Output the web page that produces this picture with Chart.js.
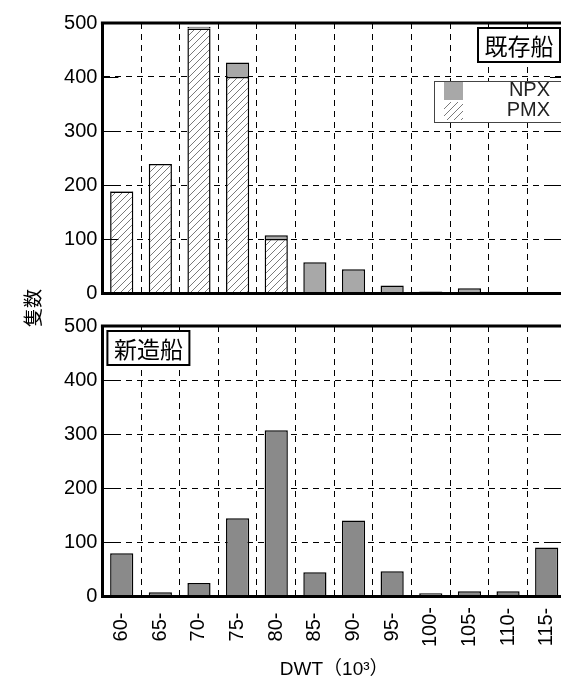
<!DOCTYPE html>
<html lang="ja">
<head>
<meta charset="UTF-8">
<title>隻数 / DWT</title>
<style>
  body { margin: 0; background: #fff; overflow: hidden; }
  #wrap { position: relative; width: 561px; height: 683px; overflow: hidden; }
  canvas { position: absolute; left: 0; top: 0; }
</style>
</head>
<body>
<div id="wrap">
  <canvas id="newChart" width="570" height="683"></canvas>
  <canvas id="oldChart" width="570" height="310"></canvas>
</div>

<script src="https://cdn.jsdelivr.net/npm/chart.js"></script>
<script>
    // data
    const categories = ['60-', '65-', '70-', '75-', '80-', '85-', '90-', '95-', '100-', '105-', '110-', '115-'];
    const pmxValues = [188, 239, 490, 400, 100, 0, 0, 0, 0, 0, 0, 0];
    const npxValues = [1, 0, 3, 27, 7, 57, 44, 14, 3, 9, 0, 0];
    const newValues = [79, 7, 24, 144, 307, 44, 140, 46, 5, 9, 9, 90];
    const yTicks = [0, 100, 200, 300, 400, 500];

    const NUM_FONT = "'Liberation Sans', Arial, 'Noto Sans CJK JP', sans-serif";
    const CJK_FONT = "'Noto Sans CJK JP', sans-serif";
    const DASH = [6, 5];

    function hatchPattern() {
        const c = document.createElement('canvas');
        c.width = 7; c.height = 7;
        const g = c.getContext('2d');
        g.fillStyle = '#fff';
        g.fillRect(0, 0, 7, 7);
        g.strokeStyle = '#7a7a7a';
        g.lineWidth = 1;
        g.beginPath();
        g.moveTo(-1, 8); g.lineTo(8, -1);
        g.moveTo(-1, 1); g.lineTo(1, -1);
        g.moveTo(6, 8); g.lineTo(8, 6);
        g.stroke();
        return g.createPattern(c, 'repeat');
    }

    function yScale() {
        return {
            min: 0, max: 500,
            stacked: true,
            afterBuildTicks: s => { s.ticks = yTicks.map(v => ({ value: v })); },
            afterFit: s => { s.width = 102.4; },
            ticks: { font: { family: NUM_FONT, size: 20 }, color: '#000', padding: 5 },
            grid: { color: '#000', lineWidth: 1, drawTicks: false },
            border: { width: 3, color: '#000', dash: DASH, z: 1 }
        };
    }

    function xScale(height, title) {
        return {
            stacked: true,
            afterFit: s => { s.height = height; },
            ticks: { display: false },
            grid: { color: '#000', lineWidth: 1, drawTicks: false, offset: true },
            border: { width: 3, color: '#000', dash: DASH, z: 1 },
            title: title
        };
    }

    // frame, inner tick marks and the panel label box
    function framePlugin(label, side) {
        return {
            id: 'frame',
            afterDraw(chart) {
                const ctx = chart.ctx;
                const a = chart.chartArea;
                const ys = chart.scales.y;
                ctx.save();
                ctx.strokeStyle = '#000';
                ctx.lineWidth = 3;
                ctx.beginPath();
                ctx.moveTo(a.left - 1.5, a.top);
                ctx.lineTo(a.right, a.top);
                ctx.lineTo(a.right, a.bottom);
                ctx.stroke();

                ctx.lineWidth = 1;
                yTicks.forEach(v => {
                    const y = Math.round(ys.getPixelForValue(v)) + 0.5;
                    ctx.beginPath();
                    ctx.moveTo(a.left, y); ctx.lineTo(a.left + 16, y);
                    ctx.moveTo(a.right - 16, y); ctx.lineTo(a.right, y);
                    ctx.stroke();
                });

                ctx.font = '23px ' + CJK_FONT;
                const w = 82, h = 34;
                const bx = side === 'right' ? a.right - 6 - w : a.left + 5;
                const by = a.top + 5;
                ctx.fillStyle = '#fff';
                ctx.fillRect(bx, by, w, h);
                ctx.lineWidth = 2;
                ctx.strokeRect(bx, by, w, h);
                ctx.fillStyle = '#000';
                ctx.textAlign = 'center';
                ctx.textBaseline = 'middle';
                ctx.fillText(label, bx + w / 2, by + h / 2 + 1);
                ctx.restore();
            }
        };
    }

    const legendPlugin = {
        id: 'boxLegend',
        afterDraw(chart) {
            const ctx = chart.ctx;
            const items = chart.data.datasets.slice().reverse();
            ctx.save();
            ctx.fillStyle = '#fff';
            ctx.fillRect(434, 81, 130, 42);
            ctx.strokeStyle = '#444';
            ctx.lineWidth = 1;
            ctx.strokeRect(434.5, 81.5, 130, 41);
            ctx.font = '20px ' + NUM_FONT;
            ctx.textAlign = 'right';
            ctx.textBaseline = 'middle';
            items.forEach((d, i) => {
                const y = 82 + i * 20;
                ctx.fillStyle = d.backgroundColor;
                ctx.fillRect(444, y, 19, 18);
                ctx.fillStyle = '#222';
                ctx.fillText(d.label, 550, y + 8);
            });
            ctx.restore();
        }
    };

    // rotated category labels and the shared y title
    const labelPlugin = {
        id: 'labels',
        afterDraw(chart) {
            const ctx = chart.ctx;
            const xs = chart.scales.x;
            ctx.save();
            ctx.fillStyle = '#000';
            ctx.font = '20px ' + NUM_FONT;
            ctx.textAlign = 'center';
            ctx.textBaseline = 'middle';
            categories.forEach((c, i) => {
                ctx.save();
                ctx.translate(xs.getPixelForValue(i), 627);
                ctx.rotate(-Math.PI / 2);
                ctx.fillText(c, 0, 0);
                ctx.restore();
            });
            ctx.font = '19px ' + CJK_FONT;
            ctx.translate(33, 308);
            ctx.rotate(-Math.PI / 2);
            ctx.fillText('隻数', 0, 0);
            ctx.restore();
        }
    };

    const common = {
        responsive: false,
        animation: false,
        plugins: { legend: { display: false }, tooltip: { enabled: false } }
    };

    new Chart(document.getElementById('oldChart'), {
        type: 'bar',
        data: {
            labels: categories,
            datasets: [
                { label: 'PMX', data: pmxValues, backgroundColor: hatchPattern(),
                  borderColor: '#000', borderWidth: 1.5, barPercentage: 0.6, categoryPercentage: 1 },
                { label: 'NPX', data: npxValues, backgroundColor: '#a8a8a8',
                  borderColor: '#000', borderWidth: 1.5, barPercentage: 0.6, categoryPercentage: 1 }
            ]
        },
        options: Object.assign({}, common, {
            layout: { padding: { top: 23, right: 4, left: 0, bottom: 0 } },
            scales: { x: xScale(17, { display: false }), y: yScale() }
        }),
        plugins: [framePlugin('既存船', 'right'), legendPlugin]
    });

    new Chart(document.getElementById('newChart'), {
        type: 'bar',
        data: {
            labels: categories,
            datasets: [
                { label: '新造船', data: newValues, backgroundColor: '#8a8a8a',
                  borderColor: '#000', borderWidth: 1.5, barPercentage: 0.6, categoryPercentage: 1 }
            ]
        },
        options: Object.assign({}, common, {
            layout: { padding: { top: 326, right: 4, left: 0, bottom: 0 } },
            scales: {
                x: xScale(87, { display: true, text: 'DWT（10³）', color: '#000',
                    font: { family: NUM_FONT, size: 19 }, padding: { top: 0, bottom: 2 } }),
                y: yScale()
            }
        }),
        plugins: [framePlugin('新造船', 'left'), labelPlugin]
    });
</script>
</body>
</html>
